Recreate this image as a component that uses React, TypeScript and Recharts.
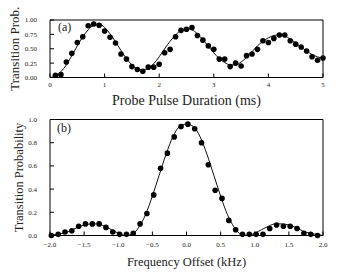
import React from 'react';
import { ComposedChart, Line, Scatter, XAxis, YAxis } from 'recharts';

// Panel (a): Rabi oscillation vs probe pulse duration
const durationMs = [
  0.1, 0.2, 0.3, 0.4, 0.5, 0.6, 0.7, 0.8, 0.9, 1.0,
  1.1, 1.2, 1.3, 1.4, 1.5, 1.6, 1.7, 1.8, 1.9, 2.0,
  2.1, 2.2, 2.3, 2.4, 2.5, 2.6, 2.7, 2.8, 2.9, 3.0,
  3.1, 3.2, 3.3, 3.4, 3.5, 3.6, 3.7, 3.8, 3.9, 4.0,
  4.1, 4.2, 4.3, 4.4, 4.5, 4.6, 4.7, 4.8, 4.9, 5.0,
];
const rabiMeasured = [
  0.04, 0.05, 0.27, 0.42, 0.61, 0.71, 0.9, 0.93, 0.91, 0.81,
  0.7, 0.6, 0.41, 0.32, 0.19, 0.14, 0.11, 0.18, 0.18, 0.23,
  0.43, 0.49, 0.71, 0.82, 0.84, 0.87, 0.73, 0.65, 0.55, 0.49,
  0.32, 0.32, 0.19, 0.25, 0.2, 0.38, 0.41, 0.49, 0.64, 0.61,
  0.68, 0.74, 0.74, 0.64, 0.58, 0.53, 0.46, 0.36, 0.3, 0.34,
];
const fitDurationMs = [
  0.0, 0.1, 0.2, 0.3, 0.4, 0.5, 0.6, 0.7, 0.8, 0.9, 1.0,
  1.1, 1.2, 1.3, 1.4, 1.5, 1.6, 1.7, 1.8, 1.9, 2.0,
  2.1, 2.2, 2.3, 2.4, 2.5, 2.6, 2.7, 2.8, 2.9, 3.0,
  3.1, 3.2, 3.3, 3.4, 3.5, 3.6, 3.7, 3.8, 3.9, 4.0,
  4.1, 4.2, 4.3, 4.4, 4.5, 4.6, 4.7, 4.8, 4.9, 5.0,
];
const rabiFit = [
  0.0, 0.03, 0.1, 0.22, 0.38, 0.55, 0.71, 0.83, 0.91, 0.93, 0.87,
  0.76, 0.62, 0.47, 0.33, 0.22, 0.15, 0.13, 0.16, 0.24, 0.36,
  0.5, 0.63, 0.74, 0.82, 0.85, 0.83, 0.76, 0.66, 0.54, 0.43,
  0.33, 0.26, 0.22, 0.22, 0.27, 0.35, 0.45, 0.55, 0.63, 0.69,
  0.73, 0.74, 0.72, 0.67, 0.6, 0.53, 0.46, 0.4, 0.36, 0.33,
];
const durationTicks = [0, 1, 2, 3, 4, 5];
const probTicksA = [0, 0.25, 0.5, 0.75, 1];

// Panel (b): line shape vs frequency offset
const freqOffsetKHz = [
  -1.98, -1.88, -1.78, -1.68, -1.58, -1.48, -1.38, -1.28, -1.18, -1.08,
  -0.98, -0.88, -0.78, -0.68, -0.58, -0.48, -0.38, -0.28, -0.18, -0.08,
  0.02, 0.12, 0.22, 0.32, 0.42, 0.52, 0.62, 0.72, 0.82, 0.92,
  1.02, 1.12, 1.22, 1.32, 1.42, 1.52, 1.62, 1.72, 1.82, 1.92,
];
const spectrumMeasured = [
  0.0, 0.01, 0.03, 0.04, 0.08, 0.1, 0.1, 0.1, 0.07, 0.03,
  0.01, 0.01, 0.02, 0.1, 0.19, 0.35, 0.58, 0.71, 0.85, 0.94,
  0.96, 0.92, 0.8, 0.61, 0.39, 0.32, 0.13, 0.05, 0.01, 0.01,
  0.01, 0.01, 0.06, 0.09, 0.08, 0.08, 0.06, 0.02, 0.01, 0.0,
];
const fitFreqKHz = [
  -2.0, -1.9, -1.8, -1.7, -1.6, -1.5, -1.4, -1.3, -1.2, -1.1, -1.0,
  -0.9, -0.8, -0.7, -0.6, -0.5, -0.4, -0.3, -0.2, -0.1, 0.0,
  0.1, 0.2, 0.3, 0.4, 0.5, 0.6, 0.7, 0.8, 0.9, 1.0,
  1.1, 1.2, 1.3, 1.4, 1.5, 1.6, 1.7, 1.8, 1.9, 2.0,
];
const spectrumFit = [
  0.0, 0.01, 0.02, 0.04, 0.07, 0.09, 0.1, 0.1, 0.08, 0.05, 0.02,
  0.0, 0.01, 0.07, 0.18, 0.34, 0.52, 0.7, 0.85, 0.94, 0.96,
  0.94, 0.85, 0.7, 0.52, 0.34, 0.18, 0.07, 0.01, 0.0, 0.02,
  0.05, 0.08, 0.1, 0.1, 0.09, 0.07, 0.04, 0.02, 0.01, 0.0,
];
const freqTicks = [-2, -1.5, -1, -0.5, 0, 0.5, 1, 1.5, 2];
const probTicksB = [0, 0.2, 0.4, 0.6, 0.8, 1];

const FONT = '"Liberation Serif", "DejaVu Serif", serif';

const rabiPoints = durationMs.map((x, i) => ({ x, y: rabiMeasured[i] }));
const rabiCurve = fitDurationMs.map((x, i) => ({ x, y: rabiFit[i] }));
const specPoints = freqOffsetKHz.map((x, i) => ({ x, y: spectrumMeasured[i] }));
const specCurve = fitFreqKHz.map((x, i) => ({ x, y: spectrumFit[i] }));

const dot = (p: any) => <circle cx={p.cx} cy={p.cy} r={2.8} fill="#000" />;
const tickStyle = { fill: '#222', fontSize: 7, fontFamily: FONT };
const labelProps = (size: number) => ({ fill: '#222', fontSize: size, fontFamily: FONT });
const fmtMinus = (v: number, d: number) => {
  const s = Math.abs(v).toFixed(d);
  return v < 0 ? '\u2212' + s : s;
};

export default function App() {
  return (
    <div style={{ position: 'absolute', left: 0, top: 0, width: 339, height: 276, background: '#fff', fontFamily: FONT }}>
      <div style={{ position: 'absolute', left: 0, top: 0 }}>
        <ComposedChart width={339} height={110} margin={{ top: 0, right: 0, bottom: 0, left: 0 }} style={{ fontFamily: FONT }}>
          <XAxis
            xAxisId="main"
            type="number"
            dataKey="x"
            domain={[0, 5]}
            ticks={durationTicks}
            interval={0}
            height={32.5}
            tickSize={-4}
            tickMargin={9}
            stroke="#000"
            tick={tickStyle}
            tickFormatter={(v: number) => String(v)}
            label={{ value: 'Probe Pulse Duration (ms)', position: 'insideBottom', offset: 5.5, ...labelProps(14) }}
          />
          <XAxis
            xAxisId="top"
            orientation="top"
            type="number"
            dataKey="x"
            domain={[0, 5]}
            ticks={durationTicks}
            interval={0}
            height={20}
            tickSize={-4}
            tick={false}
            stroke="#000"
          />
          <YAxis
            yAxisId="main"
            type="number"
            domain={[0, 1]}
            ticks={probTicksA}
            interval={0}
            width={50}
            tickSize={-4}
            tickMargin={17}
            stroke="#000"
            tick={tickStyle}
            tickFormatter={(v: number) => v.toFixed(2)}
            label={{ value: 'Transition Prob.', angle: -90, position: 'insideLeft', offset: 14, ...labelProps(13), style: { textAnchor: 'middle' } }}
          />
          <YAxis
            yAxisId="right"
            orientation="right"
            type="number"
            domain={[0, 1]}
            ticks={probTicksA}
            interval={0}
            width={16}
            tickSize={-4}
            tick={false}
            stroke="#000"
          />
          <Line
            xAxisId="main"
            yAxisId="main"
            data={rabiCurve}
            dataKey="y"
            type="monotone"
            stroke="#111"
            strokeWidth={1}
            dot={false}
            isAnimationActive={false}
          />
          <Scatter
            xAxisId="main"
            yAxisId="main"
            data={rabiPoints}
            dataKey="y"
            shape={dot}
            isAnimationActive={false}
          />
          <text x={58} y={31} fontSize={12} fontFamily={FONT} fill="#222">(a)</text>
        </ComposedChart>
      </div>
      <div style={{ position: 'absolute', left: 0, top: 110 }}>
        <ComposedChart width={339} height={166} margin={{ top: 0, right: 0, bottom: 0, left: 0 }} style={{ fontFamily: FONT }}>
          <XAxis
            xAxisId="main"
            type="number"
            dataKey="x"
            domain={[-2, 2]}
            ticks={freqTicks}
            interval={0}
            height={40.5}
            tickSize={-4}
            tickMargin={11}
            stroke="#000"
            tick={tickStyle}
            tickFormatter={(v: number) => fmtMinus(v, 1)}
            label={{ value: 'Frequency Offset (kHz)', position: 'insideBottom', offset: 10.5, ...labelProps(12.5) }}
          />
          <XAxis
            xAxisId="top"
            orientation="top"
            type="number"
            dataKey="x"
            domain={[-2, 2]}
            ticks={freqTicks}
            interval={0}
            height={9.5}
            tickSize={-4}
            tick={false}
            stroke="#000"
          />
          <YAxis
            yAxisId="main"
            type="number"
            domain={[0, 1]}
            ticks={probTicksB}
            interval={0}
            width={50}
            tickSize={-4}
            tickMargin={17}
            stroke="#000"
            tick={tickStyle}
            tickFormatter={(v: number) => v.toFixed(1)}
            label={{ value: 'Transition Probability', angle: -90, position: 'insideLeft', offset: 19, ...labelProps(12.5), style: { textAnchor: 'middle' } }}
          />
          <YAxis
            yAxisId="right"
            orientation="right"
            type="number"
            domain={[0, 1]}
            ticks={probTicksB}
            interval={0}
            width={16}
            tickSize={-4}
            tick={false}
            stroke="#000"
          />
          <Line
            xAxisId="main"
            yAxisId="main"
            data={specCurve}
            dataKey="y"
            type="monotone"
            stroke="#111"
            strokeWidth={1}
            dot={false}
            isAnimationActive={false}
          />
          <Scatter
            xAxisId="main"
            yAxisId="main"
            data={specPoints}
            dataKey="y"
            shape={dot}
            isAnimationActive={false}
          />
          <text x={57} y={22} fontSize={12} fontFamily={FONT} fill="#222">(b)</text>
        </ComposedChart>
      </div>
    </div>
  );
}
